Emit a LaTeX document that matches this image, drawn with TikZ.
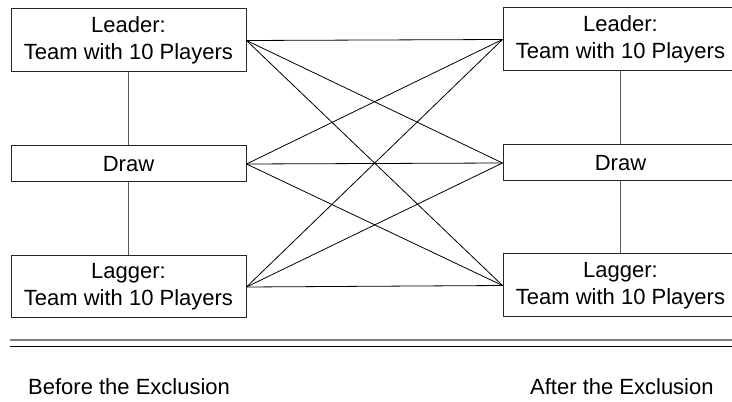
\documentclass[tikz,border=0pt]{standalone}
\usepackage{fontspec}
\setmainfont{Liberation Sans}
\begin{document}
\begin{tikzpicture}[x=1pt,y=1pt,
  box/.style={draw=black!85, line width=1pt, fill=white, minimum width=235pt, inner sep=0pt, align=center, font=\fontsize{22}{27}\selectfont},
  cross/.style={draw=black, line width=0.8pt},
  vlink/.style={draw=black!65, line width=1.2pt},
  caption/.style={font=\fontsize{22}{27}\selectfont, inner sep=0pt, anchor=west}]
\useasboundingbox (0,0) rectangle (732,402);
% left column
\node[box, minimum height=63pt] (L1) at (128.5,361.5) {Leader:\\Team with 10 Players};
\node[box, minimum height=36pt] (L2) at (128.5,238) {Draw};
\node[box, minimum height=62pt] (L3) at (128.5,115) {Lagger:\\Team with 10 Players};
% right column
\node[box, minimum height=63pt] (R1) at (620.5,362.5) {Leader:\\Team with 10 Players};
\node[box, minimum height=36pt] (R2) at (620.5,239) {Draw};
\node[box, minimum height=63pt] (R3) at (620.5,116.5) {Lagger:\\Team with 10 Players};
% vertical links
\draw[vlink] (L1) -- (L2);
\draw[vlink] (L2) -- (L3);
\draw[vlink] (R1) -- (R2);
\draw[vlink] (R2) -- (R3);
% crossing links
\foreach \a in {L1,L2,L3}{
  \foreach \b in {R1,R2,R3}{
    \draw[cross] (\a.east) -- (\b.west);
  }
}
% separator lines
\coordinate (s1a) at (10,62);
\coordinate (s1b) at (740,62);
\coordinate (s2a) at (10,55);
\coordinate (s2b) at (740,55);
\draw[draw=black!50, line width=1.6pt] (s1a) -- (s1b);
\draw[draw=black, line width=1pt] (s2a) -- (s2b);
% captions
\node[caption] (before) at (28,15.5) {Before the Exclusion};
\node[caption] (after) at (530,15.5) {After the Exclusion};
\end{tikzpicture}
\end{document}
